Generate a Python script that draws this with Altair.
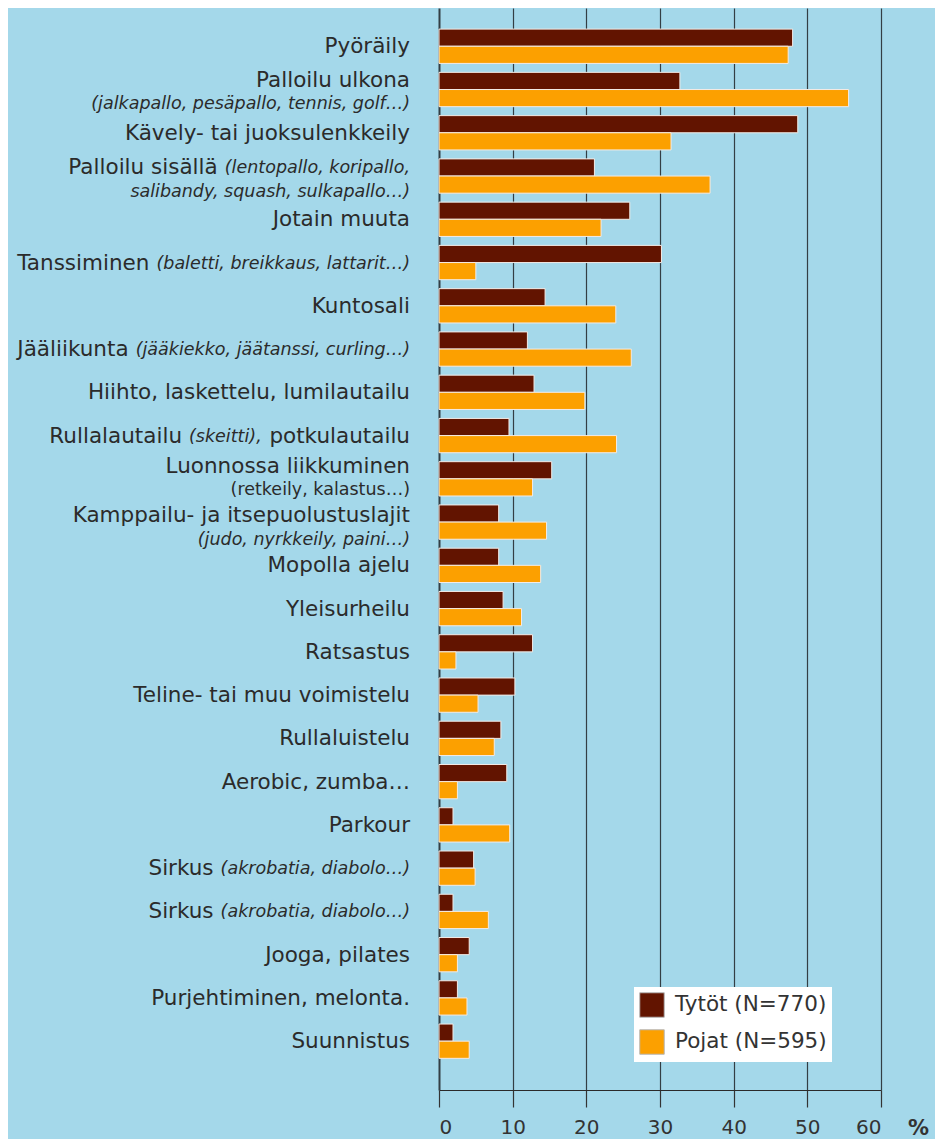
import altair as alt
import pandas as pd

# ---------------- data ----------------
categories = [
    "Pyöräily", "Palloilu ulkona", "Kävely- tai juoksulenkkeily", "Palloilu sisällä",
    "Jotain muuta", "Tanssiminen", "Kuntosali", "Jääliikunta",
    "Hiihto, laskettelu, lumilautailu", "Rullalautailu, potkulautailu",
    "Luonnossa liikkuminen", "Kamppailu- ja itsepuolustuslajit", "Mopolla ajelu",
    "Yleisurheilu", "Ratsastus", "Teline- tai muu voimistelu", "Rullaluistelu",
    "Aerobic, zumba…", "Parkour", "Sirkus", "Sirkus (2)", "Jooga, pilates",
    "Purjehtiminen, melonta.", "Suunnistus",
]
tytot = [48.0, 32.7, 48.7, 21.1, 25.9, 30.2, 14.4, 12.0, 12.9, 9.5, 15.3, 8.1,
         8.1, 8.7, 12.7, 10.3, 8.4, 9.2, 1.9, 4.7, 1.9, 4.1, 2.5, 1.9]
pojat = [47.4, 55.6, 31.5, 36.8, 22.0, 5.0, 24.0, 26.1, 19.8, 24.1, 12.7, 14.6,
         13.8, 11.2, 2.3, 5.3, 7.5, 2.5, 9.6, 4.9, 6.7, 2.5, 3.8, 4.1]
series = ["Tytöt (N=770)", "Pojat (N=595)"]
x_ticks = [0, 10, 20, 30, 40, 50, 60]

# label lines: list of lines, each a list of (text, style)
# style: N = normal, I = small italic, S = small upright
label_lines = [
    [[("Pyöräily", "N")]],
    [[("Palloilu ulkona", "N")], [("(jalkapallo, pesäpallo, tennis, golf…)", "I")]],
    [[("Kävely- tai juoksulenkkeily", "N")]],
    [[("Palloilu sisällä", "N"), ("(lentopallo, koripallo,", "I")],
     [("salibandy, squash, sulkapallo…)", "I")]],
    [[("Jotain muuta", "N")]],
    [[("Tanssiminen", "N"), ("(baletti, breikkaus, lattarit…)", "I")]],
    [[("Kuntosali", "N")]],
    [[("Jääliikunta", "N"), ("(jääkiekko, jäätanssi, curling…)", "I")]],
    [[("Hiihto, laskettelu, lumilautailu", "N")]],
    [[("Rullalautailu", "N"), ("(skeitti),", "I"), ("potkulautailu", "N")]],
    [[("Luonnossa liikkuminen", "N")], [("(retkeily, kalastus…)", "S")]],
    [[("Kamppailu- ja itsepuolustuslajit", "N")], [("(judo, nyrkkeily, paini…)", "I")]],
    [[("Mopolla ajelu", "N")]],
    [[("Yleisurheilu", "N")]],
    [[("Ratsastus", "N")]],
    [[("Teline- tai muu voimistelu", "N")]],
    [[("Rullaluistelu", "N")]],
    [[("Aerobic, zumba…", "N")]],
    [[("Parkour", "N")]],
    [[("Sirkus", "N"), ("(akrobatia, diabolo…)", "I")]],
    [[("Sirkus", "N"), ("(akrobatia, diabolo…)", "I")]],
    [[("Jooga, pilates", "N")]],
    [[("Purjehtiminen, melonta.", "N")]],
    [[("Suunnistus", "N")]],
]

# ---------------- styling ----------------
FONT = "DejaVu Sans"
BG = "#a4d8ea"
MAROON = "#621400"
ORANGE = "#fca000"
TEXT = "#2b2b2b"
STYLE = {"N": (21.5, "normal"), "I": (17.5, "italic"), "S": (17.5, "normal")}
SINGLE_DY = 1
TWO_LINE_DY = (-9, 14)
TWO_LINE_DY_OVERRIDE = {3: (-8, 16), 10: (-12, 11), 11: (-6, 18)}

# DejaVu Sans advance widths (em)
W = {" ": .318, "(": .390, ")": .390, ",": .318, ".": .318, "-": .361, "…": 1.0,
     "a": .613, "b": .635, "c": .550, "d": .635, "e": .615, "f": .352, "g": .635,
     "h": .634, "i": .278, "j": .278, "k": .579, "l": .278, "m": .974, "n": .634,
     "o": .612, "p": .635, "q": .635, "r": .411, "s": .521, "t": .392, "u": .634,
     "v": .592, "w": .818, "x": .592, "y": .592, "z": .525, "ä": .613, "ö": .612}


def text_width(s, size):
    return sum(W.get(ch, 0.65) for ch in s) * size


RIGHT = -29
GAP = 7

rows = []
for i, lines in enumerate(label_lines):
    for li, line in enumerate(lines):
        if len(lines) == 1:
            dy = SINGLE_DY
        else:
            dy = TWO_LINE_DY_OVERRIDE.get(i, TWO_LINE_DY)[li]
        right = RIGHT
        for text, st in reversed(line):
            rows.append({"id": i, "text": text, "px": right, "dy": dy, "style": st})
            right -= text_width(text, STYLE[st][0]) + GAP
seg_df = pd.DataFrame(rows)

bar_rows = []
for i in range(len(categories)):
    bar_rows.append({"id": i, "series": series[0], "value": tytot[i]})
    bar_rows.append({"id": i, "series": series[1], "value": pojat[i]})
bar_df = pd.DataFrame(bar_rows)

y_enc = alt.Y("id:O", axis=None,
              scale=alt.Scale(paddingInner=0.207, paddingOuter=0.61, align=0.4))

bars = alt.Chart(bar_df).mark_bar(stroke="#f3ebe6", strokeWidth=1).encode(
    x=alt.X("value:Q",
            scale=alt.Scale(domain=[0, 60], nice=False),
            axis=alt.Axis(values=x_ticks, grid=True, gridColor="#333e44",
                          gridWidth=alt.expr("datum.value == 0 ? 2 : 1.2"),
                          domain=True, domainColor="#2a2a2a", domainWidth=1.2,
                          tickColor="#333333", tickSize=17, tickWidth=1.2,
                          labelFont=FONT, labelFontSize=20, labelColor="#333333",
                          labelPadding=10, format="d",
                          title="%", titleFont=FONT, titleFontSize=21,
                          titleFontWeight="bold", titleColor="#333333",
                          titleAngle=0, titleX=479, titleY=38,
                          titleAlign="center", titleBaseline="middle")),
    y=y_enc,
    yOffset=alt.YOffset("series:N", sort=series,
                        scale=alt.Scale(paddingInner=0, paddingOuter=0)),
    color=alt.Color("series:N", sort=series,
                    scale=alt.Scale(domain=series, range=[MAROON, ORANGE]),
                    legend=alt.Legend(title=None, orient="none", legendX=195, legendY=979,
                                      fillColor="#ffffff", padding=5,
                                      symbolType="square", symbolSize=600,
                                      symbolStrokeColor="#b8b8b8", symbolStrokeWidth=1,
                                      symbolOpacity=1,
                                      labelFont=FONT, labelFontSize=21.5,
                                      labelColor="#333333", labelOffset=10,
                                      rowPadding=7, labelLimit=300)),
)

text_layers = []
for dy in sorted(seg_df["dy"].unique()):
    for st in ["N", "I", "S"]:
        sub = seg_df[(seg_df["dy"] == dy) & (seg_df["style"] == st)]
        if sub.empty:
            continue
        size, fstyle = STYLE[st]
        text_layers.append(
            alt.Chart(sub).mark_text(align="right", baseline="middle", font=FONT,
                                     fontSize=size, fontStyle=fstyle, color=TEXT,
                                     dy=int(dy)).encode(
                x=alt.X("px:Q", scale=None, axis=None),
                y=y_enc,
                text="text:N",
            )
        )

chart = alt.layer(bars, *text_layers).resolve_scale(x="independent").properties(
    width=442, height=1082,
    autosize=alt.AutoSizeParams(type="none"),
    padding={"left": 431, "top": 0, "right": 54, "bottom": 49},
    background=BG,
).configure_view(stroke=None)

chart.save("out.html", embed_options={"renderer": "svg", "actions": False})
